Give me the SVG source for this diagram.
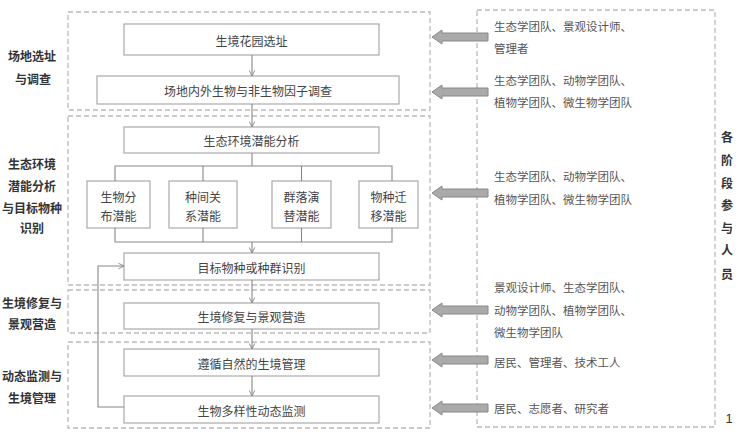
<svg xmlns="http://www.w3.org/2000/svg" width="750" height="438" viewBox="0 0 750 438">
<style>
.bg{fill:#fff}
.dash{fill:none;stroke:#bbb;stroke-width:1.3;stroke-dasharray:5 3}
.box{fill:#fff;stroke:#aaa;stroke-width:1.2}
.t{font-family:"Noto Sans CJK SC","Noto Sans",sans-serif;font-size:12px;fill:#444;text-anchor:middle;dominant-baseline:central}
.r{font-family:"Noto Sans CJK SC","Noto Sans",sans-serif;font-size:11.5px;fill:#555;dominant-baseline:central}
.l{font-family:"Noto Sans CJK SC","Noto Sans",sans-serif;font-size:12px;font-weight:bold;fill:#333;text-anchor:middle;dominant-baseline:central}
.ln{fill:none;stroke:#888;stroke-width:1.1}
.ba{fill:#aaa;stroke:#888;stroke-width:1}
</style>
<defs>
<marker id="ah" viewBox="0 0 10 10" refX="9" refY="5" markerWidth="7" markerHeight="7" orient="auto" markerUnits="userSpaceOnUse">
<path d="M1,1 L9,5 L1,9" fill="none" stroke="#888" stroke-width="1.3"/>
</marker>
<path id="blk" d="M0,0 L10,-7 L10,-4 L56,-4 L56,4 L10,4 L10,7 Z"/>
</defs>
<rect class="bg" width="750" height="438"/>

<g id="regions">
<rect class="dash" x="68" y="12" width="362" height="98"/>
<rect class="dash" x="68" y="116" width="362" height="169"/>
<rect class="dash" x="68" y="290" width="362" height="43"/>
<rect class="dash" x="68" y="342" width="362" height="86"/>
<rect class="dash" x="477" y="10" width="238" height="417"/>
</g>

<g id="stage-labels">
<text class="l" x="32" y="55">场地选址</text>
<text class="l" x="33" y="78">与调查</text>
<text class="l" x="32" y="163">生态环境</text>
<text class="l" x="32" y="185">潜能分析</text>
<text class="l" x="32" y="207">与目标物种</text>
<text class="l" x="32" y="227">识别</text>
<text class="l" x="32" y="302">生境修复与</text>
<text class="l" x="32" y="323">景观营造</text>
<text class="l" x="32" y="375">动态监测与</text>
<text class="l" x="32" y="397">生境管理</text>
</g>

<g id="n1"><rect class="box" x="124" y="24" width="255" height="31"/><text class="t" x="251.5" y="40">生境花园选址</text></g>
<g id="n2"><rect class="box" x="97" y="76" width="302" height="28"/><text class="t" x="248" y="90">场地内外生物与非生物因子调查</text></g>
<g id="n3"><rect class="box" x="124" y="127" width="255" height="26"/><text class="t" x="251.5" y="140">生态环境潜能分析</text></g>
<g id="n4"><rect class="box" x="87" y="181" width="63" height="47"/><text class="t" x="118.5" y="196">生物分</text><text class="t" x="118.5" y="215">布潜能</text></g>
<g id="n5"><rect class="box" x="169" y="181" width="68" height="47"/><text class="t" x="203" y="196">种间关</text><text class="t" x="203" y="215">系潜能</text></g>
<g id="n6"><rect class="box" x="272" y="181" width="59" height="47"/><text class="t" x="301.5" y="196">群落演</text><text class="t" x="301.5" y="215">替潜能</text></g>
<g id="n7"><rect class="box" x="359" y="181" width="59" height="47"/><text class="t" x="388.5" y="196">物种迁</text><text class="t" x="388.5" y="215">移潜能</text></g>
<g id="n8"><rect class="box" x="124" y="253" width="255" height="27"/><text class="t" x="251.5" y="267">目标物种或种群识别</text></g>
<g id="n9"><rect class="box" x="124" y="303" width="255" height="26"/><text class="t" x="251.5" y="316">生境修复与景观营造</text></g>
<g id="n10"><rect class="box" x="124" y="349" width="255" height="27"/><text class="t" x="251.5" y="363">遵循自然的生境管理</text></g>
<g id="n11"><rect class="box" x="124" y="396" width="255" height="27"/><text class="t" x="251.5" y="410">生物多样性动态监测</text></g>

<g id="participants">
<text class="r" x="494" y="26">生态学团队、景观设计师、</text>
<text class="r" x="494" y="48">管理者</text>
<text class="r" x="494" y="80">生态学团队、动物学团队、</text>
<text class="r" x="494" y="102">植物学团队、微生物学团队</text>
<text class="r" x="494" y="176">生态学团队、动物学团队、</text>
<text class="r" x="494" y="199">植物学团队、微生物学团队</text>
<text class="r" x="494" y="287">景观设计师、生态学团队、</text>
<text class="r" x="494" y="310">动物学团队、植物学团队、</text>
<text class="r" x="494" y="332">微生物学团队</text>
<text class="r" x="494" y="362">居民、管理者、技术工人</text>
<text class="r" x="494" y="408">居民、志愿者、研究者</text>
</g>

<g id="side-label">
<text class="l" x="727" y="136">各</text>
<text class="l" x="727" y="159">阶</text>
<text class="l" x="727" y="182">段</text>
<text class="l" x="727" y="204">参</text>
<text class="l" x="727" y="227">与</text>
<text class="l" x="727" y="249">人</text>
<text class="l" x="727" y="273">员</text>
<text class="l" x="729" y="418" style="font-weight:normal;font-size:13px;font-family:'Liberation Sans',sans-serif">1</text>
</g>

<g id="connectors">
<line class="ln" x1="252" y1="55" x2="252" y2="76" marker-end="url(#ah)"/>
<line class="ln" x1="252" y1="104" x2="252" y2="127" marker-end="url(#ah)"/>
<line class="ln" x1="252" y1="153" x2="252" y2="166"/>
<polyline class="ln" points="115,181 115,166 392,166 392,181"/>
<line class="ln" x1="203" y1="166" x2="203" y2="181"/>
<line class="ln" x1="301.5" y1="166" x2="301.5" y2="181"/>
<polyline class="ln" points="115,228 115,242 392,242 392,228"/>
<line class="ln" x1="203" y1="228" x2="203" y2="242"/>
<line class="ln" x1="301.5" y1="228" x2="301.5" y2="242"/>
<line class="ln" x1="252" y1="242" x2="252" y2="253" marker-end="url(#ah)"/>
<line class="ln" x1="252" y1="280" x2="252" y2="303" marker-end="url(#ah)"/>
<line class="ln" x1="252" y1="329" x2="252" y2="349" marker-end="url(#ah)"/>
<line class="ln" x1="252" y1="376" x2="252" y2="396" marker-end="url(#ah)"/>
<polyline class="ln" points="124,407 98,407 98,266 124,266" marker-end="url(#ah)"/>
<use href="#blk" class="ba" x="432" y="37"/>
<use href="#blk" class="ba" x="432" y="92"/>
<use href="#blk" class="ba" x="432" y="193"/>
<use href="#blk" class="ba" x="432" y="310"/>
<use href="#blk" class="ba" x="432" y="360"/>
<use href="#blk" class="ba" x="432" y="408"/>
</g>
</svg>
